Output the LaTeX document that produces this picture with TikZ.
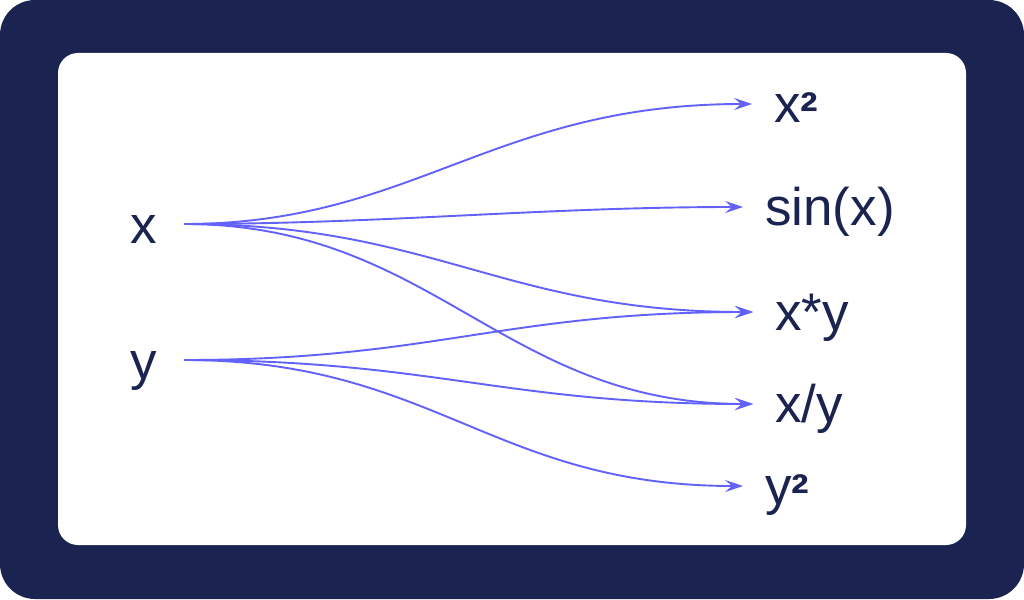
\documentclass[tikz,border=0pt]{standalone}
\usepackage{fontspec}
\setmainfont{Liberation Sans}
\usetikzlibrary{arrows.meta}
\definecolor{navy}{HTML}{1B2451}
\definecolor{arrowc}{HTML}{6262FA}
\newcommand\supsq{\raisebox{-7pt}{\bfseries ²}}
\begin{document}
\begin{tikzpicture}[x=1pt,y=-1pt,
  lbl/.style={font=\fontsize{53}{60}\selectfont, text=navy, text height=38pt, text depth=0pt, inner ysep=0pt},
  inlbl/.style={lbl, anchor=base east, inner xsep=27pt},
  outlbl/.style={lbl, text height=36pt, anchor=base west, inner xsep=22pt},
  arr/.style={draw=arrowc, line width=1.9pt, -{Stealth[length=18pt,width=12pt,inset=7pt]}}]
\useasboundingbox (0,0) rectangle (1024,599);
\fill[navy, rounded corners=35pt] (0,0) rectangle (1024,599);
\fill[white, rounded corners=20pt] (58,53) rectangle (966,545);
\node[inlbl] (x) at (184,243) {x};
\node[inlbl] (y) at (184,379) {y};
\node[outlbl] (x2) at (752,122) {x\supsq};
\node[outlbl] (sx) at (743,225) {sin(x)};
\node[outlbl] (xy) at (753,330) {x*y};
\node[outlbl] (xdy) at (753,422) {x/y};
\node[outlbl] (y2) at (743,504) {y\supsq};
\draw[arr] (x.east) .. controls +(230,0) and +(-260,0) .. (x2.west);
\draw[arr] (x.east) .. controls +(200,0) and +(-200,0) .. (sx.west);
\draw[arr] (x.east) .. controls +(250,0) and +(-250,0) .. (xy.west);
\draw[arr] (x.east) .. controls +(250,0) and +(-250,0) .. (xdy.west);
\draw[arr] (y.east) .. controls +(250,0) and +(-250,0) .. (xy.west);
\draw[arr] (y.east) .. controls +(250,0) and +(-250,0) .. (xdy.west);
\draw[arr] (y.east) .. controls +(250,0) and +(-250,0) .. (y2.west);
\end{tikzpicture}
\end{document}
